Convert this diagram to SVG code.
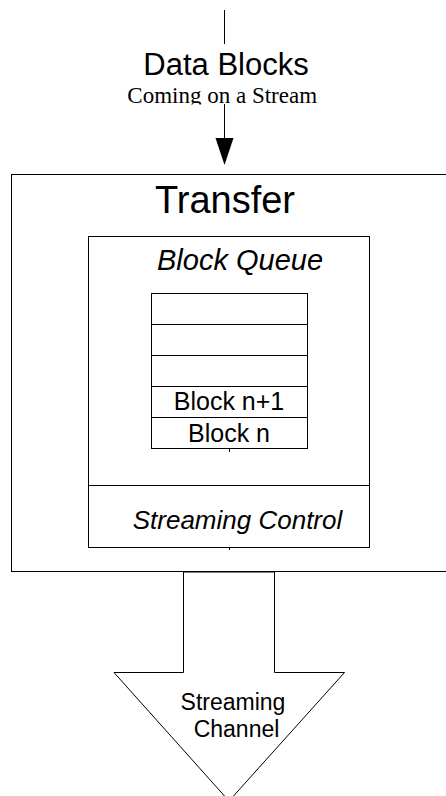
<svg xmlns="http://www.w3.org/2000/svg" width="446" height="796" viewBox="0 0 446 796">
<style>
  .box { fill: #fff; stroke: #000; stroke-width: 1; }
  .ln { fill: none; stroke: #000; stroke-width: 1; }
  .sans { font-family: "Liberation Sans", Arial, sans-serif; fill: #000; }
  .serif { font-family: "Liberation Serif", "Times New Roman", serif; fill: #000; }
  .it { font-style: italic; }
</style>
<defs>
  <clipPath id="clipSub"><rect x="100" y="80" width="219" height="24.5"/></clipPath>
</defs>
<rect x="0" y="0" width="446" height="796" fill="#fff"/>

<g id="input-label">
  <text class="sans" x="226" y="75" font-size="31" text-anchor="middle">Data Blocks</text>
  <text class="serif" x="127.3" y="103" font-size="23" clip-path="url(#clipSub)">Coming on a Stream</text>
</g>

<g id="transfer">
  <rect class="box" x="11.5" y="174.5" width="450" height="397"/>
  <text class="sans" x="225" y="213" font-size="38" text-anchor="middle">Transfer</text>
</g>

<g id="block-queue">
  <rect class="box" x="88.5" y="236.5" width="281" height="249"/>
  <text class="sans it" x="240" y="270" font-size="29" text-anchor="middle">Block Queue</text>
</g>

<g id="queue-slots">
  <rect class="box" x="151.5" y="293.5" width="156" height="31"/>
  <rect class="box" x="151.5" y="324.5" width="156" height="31"/>
  <rect class="box" x="151.5" y="355.5" width="156" height="31"/>
  <rect class="box" x="151.5" y="386.5" width="156" height="31"/>
  <rect class="box" x="151.5" y="417.5" width="156" height="31"/>
  <text class="sans" x="229" y="410" font-size="25" text-anchor="middle">Block n+1</text>
  <text class="sans" x="229" y="442" font-size="25" text-anchor="middle">Block n</text>
</g>

<g id="streaming-control">
  <rect class="box" x="88.5" y="485.5" width="281" height="62"/>
  <text class="sans it" x="237.5" y="528.5" font-size="26" text-anchor="middle">Streaming Control</text>
</g>

<g id="streaming-channel">
  <polygon class="box" points="183.5,572 183.5,672.5 114,672.5 229,801 344.5,672.5 274.5,672.5 274.5,572"/>
  <text class="sans" x="233" y="709.5" font-size="23" text-anchor="middle">Streaming</text>
  <text class="sans" x="236.5" y="736.5" font-size="23" text-anchor="middle">Channel</text>
</g>

<g id="connectors">
  <line class="ln" x1="224.5" y1="10" x2="224.5" y2="44"/>
  <line class="ln" x1="224.5" y1="104" x2="224.5" y2="140"/>
  <polygon points="215.5,138 233.5,138 224.5,165" fill="#000"/>
  <line class="ln" x1="229.5" y1="448.5" x2="229.5" y2="452"/>
  <line class="ln" x1="229.5" y1="547.5" x2="229.5" y2="550"/>
</g>
</svg>
